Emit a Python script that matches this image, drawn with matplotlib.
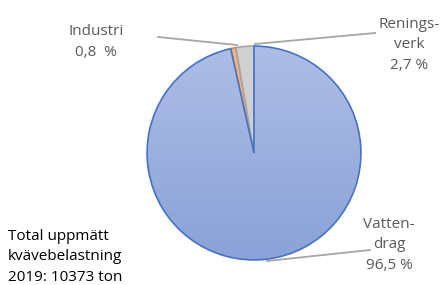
import numpy as np
import matplotlib
matplotlib.use("Agg")
import matplotlib.pyplot as plt
from matplotlib.colors import LinearSegmentedColormap

categories = ["Vattendrag", "Industri", "Reningsverk"]
values = [96.5, 0.8, 2.7]
labels = ["Vatten-\ndrag\n96,5 %", "Industri\n0,8  %", "Renings-\nverk\n2,7 %"]
total_text = "Total uppmätt\nkvävebelastning\n2019: 10373 ton"

plt.rcParams['font.family'] = ['Open Sans', 'DejaVu Sans']

fig = plt.figure(figsize=(4.46, 2.85), dpi=100)
ax = fig.add_axes([0, 0, 1, 1])
ax.set_xlim(0, 446)
ax.set_ylim(285, 0)
ax.axis('off')

# pie in pixel coordinates
cx, cy, r = 254, 153, 108
ax_pie = fig.add_axes([(cx - r) / 446, 1 - (cy + r) / 285, 2 * r / 446, 2 * r / 285])
wedges, _ = ax_pie.pie(values, startangle=90, counterclock=False,
                       colors=["#9fb2e0", "#f4b183", "#d0d0d0"],
                       wedgeprops=dict(linewidth=1.2))
for w, ec in zip(wedges, ["#4472c4", "#ed7d31", "#a5a5a5"]):
    w.set_edgecolor(ec)
ax_pie.set_xlim(-1.01, 1.01)
ax_pie.set_ylim(-1.01, 1.01)

# gradient on the big slice
cmap = LinearSegmentedColormap.from_list("b", ["#8aa2d8", "#aebde5"])
grad = np.linspace(0, 1, 256).reshape(-1, 1)
im = ax_pie.imshow(grad, extent=[-1, 1, -1, 1], origin='lower', cmap=cmap,
                   aspect='auto', zorder=wedges[0].get_zorder() + 0.1)
im.set_clip_path(wedges[0])
wedges[0].set_facecolor('none')
wedges[0].set_zorder(im.get_zorder() + 0.1)

txt = "#595959"
line = "#a5a5a5"
# leader lines (pixel coords)
ax.plot([158, 237], [37, 45], color=line, lw=1.3)
ax.plot([255, 375], [44, 33], color=line, lw=1.3)
ax.plot([267, 370], [261, 250], color=line, lw=1.3)

ls = 1.5
ax.text(96, 42, labels[1], color=txt, fontsize=11, ha='center', va='center', linespacing=ls)
ax.text(409, 45, labels[2], color=txt, fontsize=11, ha='center', va='center', linespacing=ls)
ax.text(389, 245, labels[0], color=txt, fontsize=11, ha='center', va='center', linespacing=ls)
ax.text(8, 257, total_text, color="#000000", fontsize=11, ha='left', va='center', linespacing=ls)

fig.savefig("out.png", dpi=100)
